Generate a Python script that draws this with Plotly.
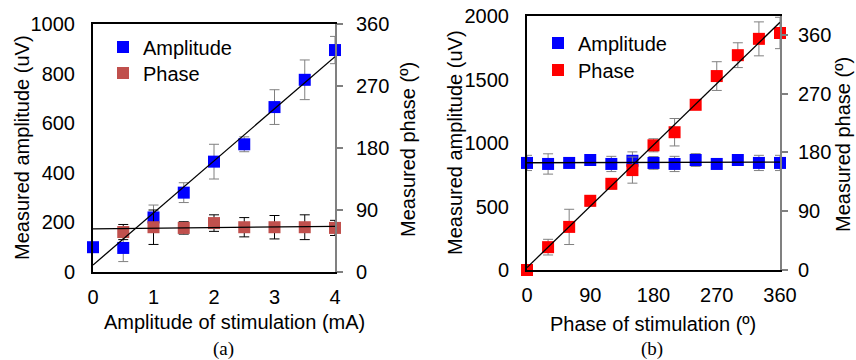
import numpy as np
import plotly.graph_objects as go

# ---------------- data: panel (a) ----------------
stim_amp_mA = [0, 0.5, 1, 1.5, 2, 2.5, 3, 3.5, 4]
a_amplitude_uV = [100, 97, 220, 320, 445, 515, 665, 775, 895]
a_amplitude_err = [0, 55, 50, 40, 70, 30, 70, 80, 55]
a_phase_x = [0.5, 1, 1.5, 2, 2.5, 3, 3.5, 4]
a_phase_deg = [58, 65, 64, 71, 65, 65, 65, 64]
a_phase_err = [11, 25, 9, 12, 14, 17, 18, 11]

# ---------------- data: panel (b) ----------------
stim_phase_deg = [0, 30, 60, 90, 120, 150, 180, 210, 240, 270, 300, 330, 360]
b_amplitude_uV = [843, 835, 843, 866, 835, 860, 843, 835, 866, 835, 866, 843, 843]
b_amplitude_err = [60, 80, 30, 20, 60, 70, 50, 60, 50, 30, 20, 60, 60]
b_phase_deg = [0, 35, 66, 106, 132, 153, 191, 211, 253, 297, 329, 354, 363]
b_phase_err = [0, 12, 27, 8, 8, 20, 10, 21, 5, 22, 19, 26, 24]

FONT = "Liberation Sans"
FS = 20
W, H = 856, 360
GRAY = "#808080"
BLUE = "#0000FF"
BROWN = "#C0504D"
RED = "#FF0000"


def px(x):
    return x / W


def py(y):
    return 1 - y / H


def trend(xs, ys, xr):
    k, b = np.polyfit(xs, ys, 1)
    xr = np.array([min(xr), max(xr)], dtype=float)
    return xr, k * xr + b


fig = go.Figure()

# ---- panel (a) ----
fig.add_trace(go.Scatter(
    x=stim_amp_mA, y=a_amplitude_uV, mode="markers", name="Amplitude",
    marker=dict(symbol="square", size=12, color=BLUE),
    error_y=dict(type="data", array=a_amplitude_err, color=GRAY, thickness=1, width=5),
    xaxis="x", yaxis="y", legend="legend", cliponaxis=False))
fig.add_trace(go.Scatter(
    x=a_phase_x, y=a_phase_deg, mode="markers", name="Phase",
    marker=dict(symbol="square", size=12, color=BROWN),
    error_y=dict(type="data", array=a_phase_err, color="black", thickness=1, width=5),
    xaxis="x", yaxis="y2", legend="legend2", cliponaxis=False))
tx, ty = trend(a_phase_x, a_phase_deg, stim_amp_mA)
fig.add_trace(go.Scatter(x=tx, y=ty, mode="lines", line=dict(color="black", width=1.3),
                         showlegend=False, xaxis="x", yaxis="y2", hoverinfo="skip"))
tx, ty = trend(stim_amp_mA, a_amplitude_uV, stim_amp_mA)
fig.add_trace(go.Scatter(x=tx, y=ty, mode="lines", line=dict(color="black", width=1.3),
                         showlegend=False, xaxis="x", yaxis="y3", hoverinfo="skip"))

# ---- panel (b) ----
fig.add_trace(go.Scatter(
    x=stim_phase_deg, y=b_amplitude_uV, mode="markers", name="Amplitude",
    marker=dict(symbol="square", size=12, color=BLUE),
    error_y=dict(type="data", array=b_amplitude_err, color=GRAY, thickness=1, width=5),
    xaxis="x2", yaxis="y4", legend="legend3", cliponaxis=False))
fig.add_trace(go.Scatter(
    x=stim_phase_deg, y=b_phase_deg, mode="markers", name="Phase",
    marker=dict(symbol="square", size=12, color=RED),
    error_y=dict(type="data", array=b_phase_err, color=GRAY, thickness=1, width=5),
    xaxis="x2", yaxis="y5", legend="legend4", cliponaxis=False))
tx, ty = trend(stim_phase_deg, b_phase_deg, stim_phase_deg)
fig.add_trace(go.Scatter(x=tx, y=ty, mode="lines", line=dict(color="black", width=1.3),
                         showlegend=False, xaxis="x2", yaxis="y5", hoverinfo="skip"))
tx, ty = trend(stim_phase_deg, b_amplitude_uV, stim_phase_deg)
fig.add_trace(go.Scatter(x=tx, y=ty, mode="lines", line=dict(color="black", width=1.3),
                         showlegend=False, xaxis="x2", yaxis="y6", hoverinfo="skip"))

tickfont = dict(family=FONT, size=FS, color="black")
common_x = dict(showgrid=False, zeroline=False, showline=True, linecolor="black",
                linewidth=2, mirror=True, ticks="", tickfont=tickfont,
                ticklabelstandoff=6, automargin=False)
common_yl = dict(showgrid=False, zeroline=False, showline=True, linecolor="black",
                 linewidth=2, ticks="", tickfont=tickfont, ticklabelstandoff=12,
                 automargin=False)
common_yr = dict(showgrid=False, zeroline=False, showline=True, linecolor=GRAY,
                 linewidth=2, ticks="outside", ticklen=6, tickcolor=GRAY, tickwidth=1.5,
                 tickfont=tickfont, side="right", automargin=False)


def leg(x, y):
    return dict(x=px(x), y=py(y), xanchor="left", yanchor="middle",
                bgcolor="rgba(0,0,0,0)", font=dict(family=FONT, size=FS),
                tracegroupgap=0, itemwidth=30)


fig.update_layout(
    width=W, height=H,
    margin=dict(l=0, r=0, t=0, b=0),
    paper_bgcolor="white", plot_bgcolor="rgba(0,0,0,0)",
    font=dict(family=FONT, size=FS, color="black"),
    xaxis=dict(domain=[px(93), px(335)], range=[0, 4], dtick=1, anchor="y", **common_x),
    yaxis=dict(domain=[py(272), py(24)], range=[0, 1000], dtick=200, anchor="x", **common_yl),
    yaxis2=dict(range=[0, 360], dtick=90, overlaying="y", anchor="x",
                ticklabelstandoff=9, **common_yr),
    yaxis3=dict(range=[0, 1000], overlaying="y", anchor="x", visible=False),
    xaxis2=dict(domain=[px(527), px(780)], range=[0, 360], dtick=90, anchor="y4", **common_x),
    yaxis4=dict(domain=[py(270), py(16)], range=[0, 2000], dtick=500, anchor="x2", **common_yl),
    yaxis5=dict(range=[0, 389], tickvals=[0, 90, 180, 270, 360], overlaying="y4",
                anchor="x2", ticklabelstandoff=6, **common_yr),
    yaxis6=dict(range=[0, 2000], overlaying="y4", anchor="x2", visible=False),
    legend=leg(103, 47),
    legend2=leg(103, 73),
    legend3=leg(538, 43),
    legend4=leg(538, 70),
    showlegend=True,
)

ann = [
    dict(text="Measured amplitude (uV)", x=px(22), y=py(148), textangle=-90),
    dict(text="Measured phase (º)", x=px(408), y=py(150), textangle=-90),
    dict(text="Amplitude of stimulation (mA)", x=px(234), y=py(322)),
    dict(text="Measured amplitude (uV)", x=px(455), y=py(143), textangle=-90),
    dict(text="Measured phase (º)", x=px(843), y=py(145), textangle=-90),
    dict(text="Phase of stimulation (º)", x=px(653), y=py(324)),
]
for a in ann:
    fig.add_annotation(xref="paper", yref="paper", showarrow=False,
                       xanchor="center", yanchor="middle",
                       font=dict(family=FONT, size=FS, color="black"), **a)
for t, x in [("(a)", 224), ("(b)", 652)]:
    fig.add_annotation(text=t, xref="paper", yref="paper", x=px(x), y=py(349),
                       showarrow=False, xanchor="center", yanchor="middle",
                       font=dict(family="Liberation Serif", size=19, color="black"))

fig.write_html("out.html")
